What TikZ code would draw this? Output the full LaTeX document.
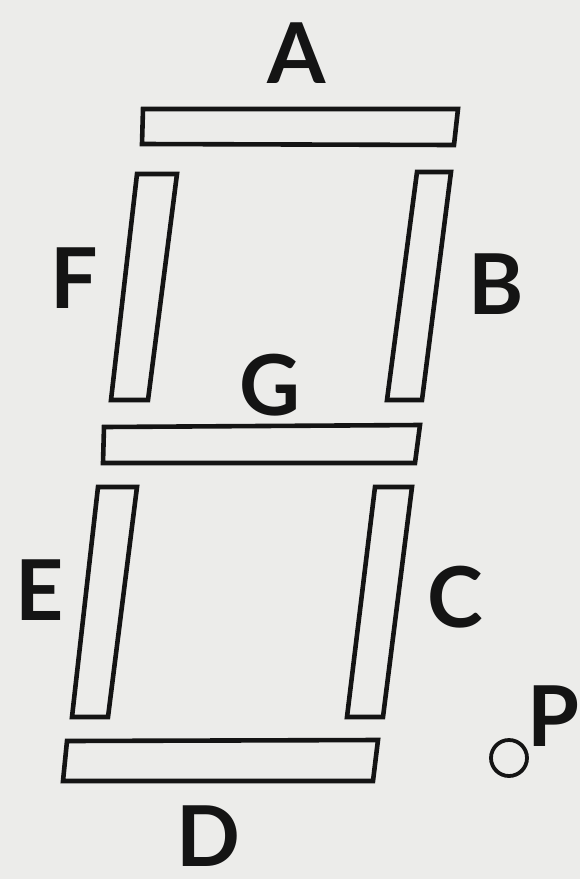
\documentclass[tikz,border=0pt]{standalone}
\usepackage{fontspec}
\setmainfont{Lato}
\definecolor{paper}{RGB}{236,236,234}
\definecolor{ink}{RGB}{20,20,20}
\begin{document}
\begin{tikzpicture}[x=1pt,y=-1pt,
  seg/.style={draw=ink,line width=4.6pt,line join=miter},
  lab/.style={text=ink,inner sep=0pt,font=\fontsize{84}{84}\selectfont\bfseries}]
\fill[paper] (0,0) rectangle (580,879);
\useasboundingbox (0,0) rectangle (580,879);
% segments
\draw[seg] (143,109) -- (458,109) -- (454,145) -- (142,144) -- cycle; % A
\draw[seg] (137,174) -- (177,174) -- (148,400) -- (111,400) -- cycle; % F
\draw[seg] (417,172) -- (451,172) -- (422,400) -- (387,400) -- cycle; % B
\draw[seg] (104,427) -- (420,425) -- (415,463) -- (103,463) -- cycle; % G
\draw[seg] (98,487) -- (137,487) -- (108,717) -- (72,717) -- cycle; % E
\draw[seg] (375,487) -- (412,487) -- (383,717) -- (347,717) -- cycle; % C
\draw[seg] (67,741) -- (378,740) -- (373,781) -- (63,781) -- cycle; % D
\draw[draw=ink,line width=3.8pt] (509,758) circle (18);
% labels
\node[lab] (la) at (297,53) {A};
\node[lab] (lf) at (74,278) {F};
\node[lab] (lb) at (496,284) {B};
\node[lab] (lg) at (270,385) {G};
\node[lab] (le) at (40,590) {E};
\node[lab] (lc) at (455,597) {C};
\node[lab] (ld) at (208,836) {D};
\node[lab] (lp) at (553,716) {P};
\end{tikzpicture}
\end{document}
